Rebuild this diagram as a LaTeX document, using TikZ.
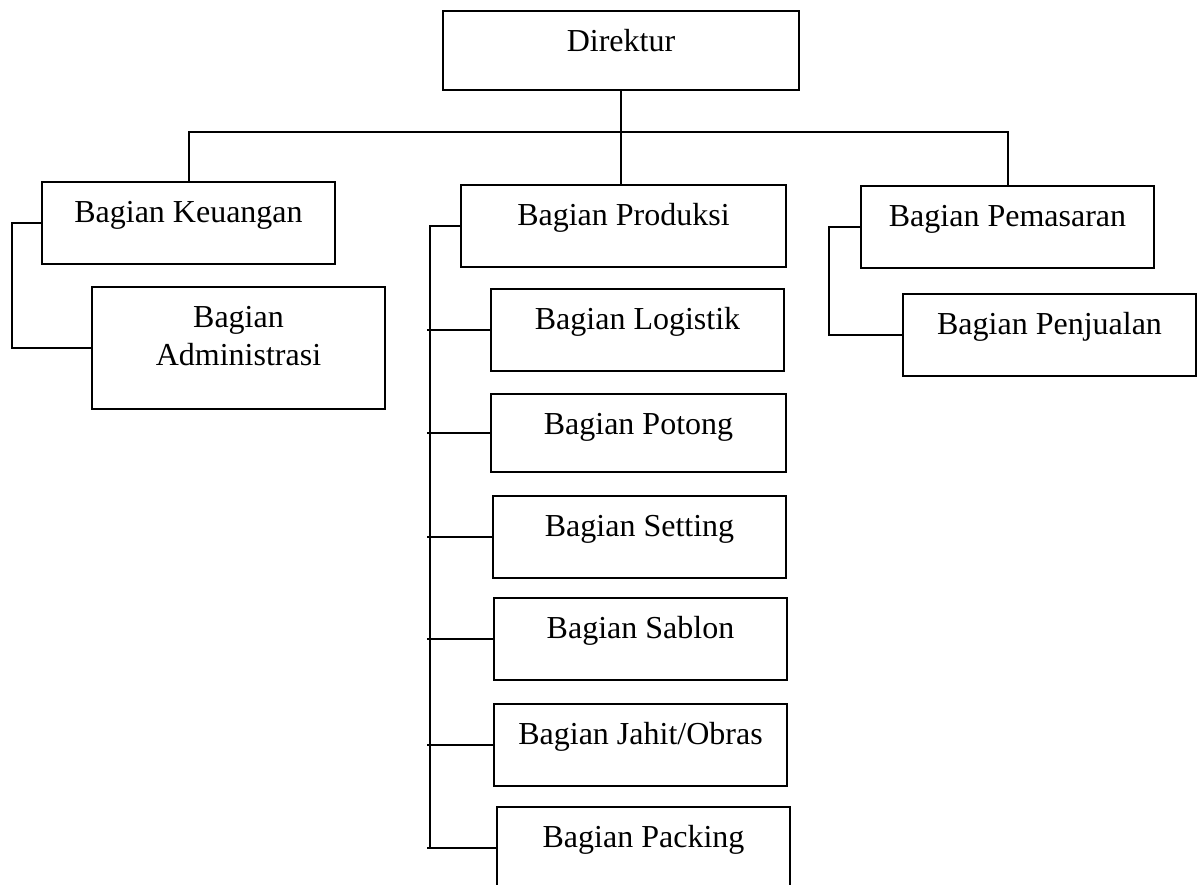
\documentclass[tikz,border=0pt]{standalone}
\usepackage{fontspec}
\setmainfont{Liberation Serif}

\begin{document}
\begin{tikzpicture}[x=0.5pt,y=-0.5pt,line width=1pt,
  unit/.style={draw,rectangle,anchor=north west,inner sep=0pt,minimum width=146.5pt,
    text height=20pt,text depth=21pt,font=\fontsize{16}{19}\selectfont}]
\useasboundingbox (0,0) rectangle (1200,884);
\clip (0,0) rectangle (1200,884);
\node [unit,minimum width=178pt,text depth=19.5pt] (dir) at (442,10) {Direktur};
\node [unit] (keu) at (41,181) {Bagian Keuangan};
\node [unit,align=center,text height=39pt,text depth=22pt] (adm) at (91,286) {Bagian\\Administrasi};
\node [unit,minimum width=162.5pt] (pro) at (460,184) {Bagian Produksi};
\node [unit] (log) at (490,288) {Bagian Logistik};
\node [unit,minimum width=147.5pt,text depth=19pt] (pot) at (490,393) {Bagian Potong};
\node [unit] (set) at (492,495) {Bagian Setting};
\node [unit] (sab) at (493,597) {Bagian Sablon};
\node [unit] (jah) at (493,703) {Bagian Jahit/Obras};
\node [unit] (pac) at (496,806) {Bagian Packing};
\node [unit] (pem) at (860,185) {Bagian Pemasaran};
\node [unit] (pen) at (902,293) {Bagian Penjualan};

% garis dari direktur
\draw (dir.south) -- (dir.south |- pro.north);
\coordinate (bus) at (620,132);
\draw (keu.north) |- (bus) -| (pem.north);

% keuangan
\draw (keu.west) -- ++(-29,0) |- (adm.west);

% produksi
\draw (pro.west) -- ++(-30,0) coordinate (spine) -- (spine |- pac.west);
\foreach \n in {log,pot,set,sab,jah,pac}
  \draw ([xshift=-1.5pt]spine |- \n.west) -- (\n.west);

% pemasaran
\draw (pem.west) -- ++(-31,0) |- (pen.west);
\end{tikzpicture}
\end{document}
